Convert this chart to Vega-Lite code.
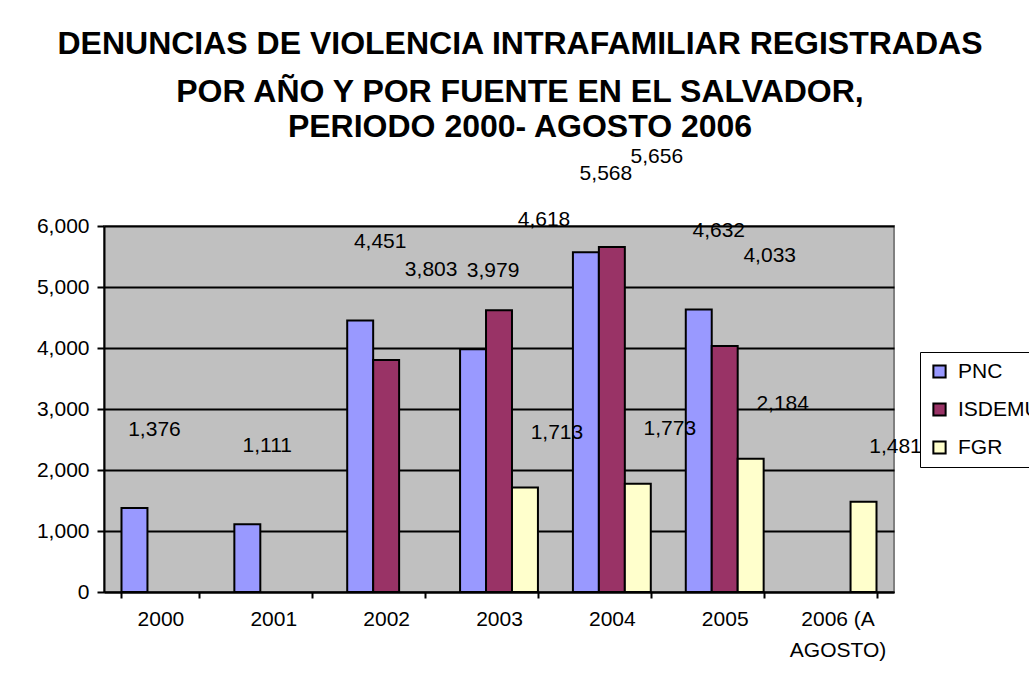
{
  "$schema": "https://vega.github.io/schema/vega-lite/v6.json",
  "autosize": {"type": "none"},
  "padding": {"left": 104, "top": 226, "right": 135, "bottom": 99},
  "width": 790,
  "height": 366,
  "background": "white",
  "title": {
    "text": "DENUNCIAS DE VIOLENCIA INTRAFAMILIAR REGISTRADAS",
    "subtitle": ["POR AÑO Y POR FUENTE EN EL SALVADOR,", "PERIODO 2000- AGOSTO 2006"],
    "anchor": "middle",
    "frame": "group",
    "dx": 21,
    "font": "Liberation Sans",
    "fontSize": 32,
    "fontWeight": "bold",
    "color": "black",
    "subtitleFont": "Liberation Sans",
    "subtitleFontSize": 32,
    "subtitleFontWeight": "bold",
    "subtitleColor": "black",
    "subtitleLineHeight": 35,
    "subtitlePadding": 16,
    "offset": 2
  },
  "data": {
    "values": [
      {"year": "2000", "source": "PNC", "value": 1376},
      {"year": "2001", "source": "PNC", "value": 1111},
      {"year": "2002", "source": "PNC", "value": 4451},
      {"year": "2002", "source": "ISDEMU", "value": 3803},
      {"year": "2003", "source": "PNC", "value": 3979},
      {"year": "2003", "source": "ISDEMU", "value": 4618},
      {"year": "2003", "source": "FGR", "value": 1713},
      {"year": "2004", "source": "PNC", "value": 5568},
      {"year": "2004", "source": "ISDEMU", "value": 5656},
      {"year": "2004", "source": "FGR", "value": 1773},
      {"year": "2005", "source": "PNC", "value": 4632},
      {"year": "2005", "source": "ISDEMU", "value": 4033},
      {"year": "2005", "source": "FGR", "value": 2184},
      {"year": "2006 (A AGOSTO)", "source": "FGR", "value": 1481}
    ]
  },
  "encoding": {
    "x": {
      "field": "year",
      "type": "nominal",
      "sort": null,
      "scale": {"domain": ["2000", "2001", "2002", "2003", "2004", "2005", "2006 (A AGOSTO)"], "paddingInner": 0.31, "paddingOuter": 0.155},
      "axis": {
        "title": null,
        "labelAngle": 0,
        "labelFont": "Liberation Sans",
        "labelFontSize": 21,
        "labelColor": "black",
        "labelPadding": 10,
        "labelLineHeight": 31,
        "labelExpr": "datum.value == '2006 (A AGOSTO)' ? ['2006 (A', 'AGOSTO)'] : datum.value",
        "tickBand": "extent",
        "tickSize": 6,
        "tickColor": "black",
        "tickWidth": 2,
        "domainColor": "black",
        "domainWidth": 2
      }
    },
    "xOffset": {"field": "source", "type": "nominal", "scale": {"domain": ["PNC", "ISDEMU", "FGR"], "paddingInner": 0}},
    "y": {
      "field": "value",
      "type": "quantitative",
      "scale": {"domain": [0, 6000], "nice": false},
      "axis": {
        "title": null,
        "values": [0, 1000, 2000, 3000, 4000, 5000, 6000],
        "format": ",d",
        "labelFont": "Liberation Sans",
        "labelFontSize": 21,
        "labelColor": "black",
        "labelPadding": 8,
        "tickSize": 7,
        "tickColor": "black",
        "tickWidth": 2,
        "domainColor": "black",
        "domainWidth": 2,
        "grid": true,
        "gridColor": "black",
        "gridWidth": 2
      }
    }
  },
  "layer": [
    {
      "mark": {"type": "bar", "stroke": "black", "strokeWidth": 2},
      "encoding": {
        "color": {
          "field": "source",
          "type": "nominal",
          "scale": {"domain": ["PNC", "ISDEMU", "FGR"], "range": ["#9999FF", "#993366", "#FFFFCC"]},
          "legend": {
            "title": null,
            "orient": "none",
            "legendX": 816,
            "legendY": 126,
            "direction": "vertical",
            "fillColor": "white",
            "strokeColor": "black",
            "padding": 9,
            "symbolType": "square",
            "symbolSize": 150,
            "symbolStrokeColor": "black",
            "symbolStrokeWidth": 2,
            "symbolOpacity": 1,
            "labelFont": "Liberation Sans",
            "labelFontSize": 21,
            "labelColor": "black",
            "labelOffset": 8,
            "rowPadding": 16,
            "labelLimit": 200
          }
        }
      }
    },
    {
      "transform": [{"filter": "datum.source == 'PNC'"}],
      "mark": {"type": "text", "font": "Liberation Sans", "fontSize": 21, "color": "black", "baseline": "middle", "dx": 20, "dy": -78},
      "encoding": {"text": {"field": "value", "type": "quantitative", "format": ",d"}}
    },
    {
      "transform": [{"filter": "datum.source == 'ISDEMU'"}],
      "mark": {"type": "text", "font": "Liberation Sans", "fontSize": 21, "color": "black", "baseline": "middle", "dx": 45, "dy": -90},
      "encoding": {"text": {"field": "value", "type": "quantitative", "format": ",d"}}
    },
    {
      "transform": [{"filter": "datum.source == 'FGR'"}],
      "mark": {"type": "text", "font": "Liberation Sans", "fontSize": 21, "color": "black", "baseline": "middle", "dx": 32, "dy": -55},
      "encoding": {"text": {"field": "value", "type": "quantitative", "format": ",d"}}
    }
  ],
  "config": {
    "view": {"fill": "#C0C0C0", "stroke": "#808080", "strokeWidth": 2}
  }
}
